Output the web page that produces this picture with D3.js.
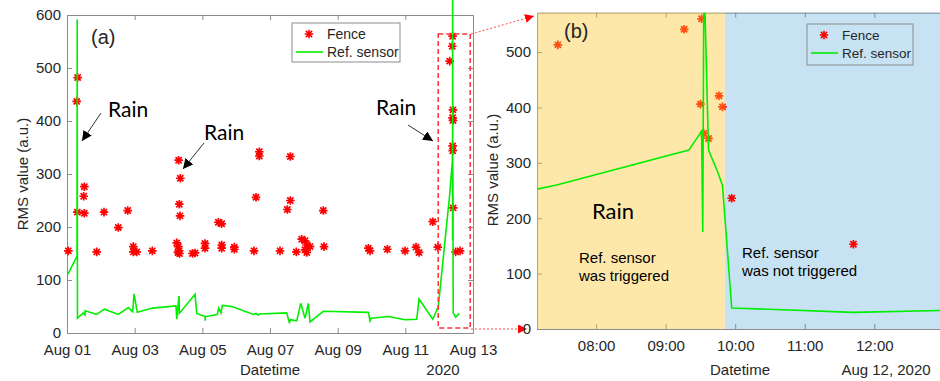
<!DOCTYPE html>
<html>
<head>
<meta charset="utf-8">
<script src="https://cdn.jsdelivr.net/npm/d3@7"></script>
<style>
    body { margin: 0; background: #fff; }
    text { font-family: "Liberation Sans", Arial, sans-serif; fill: #262626; }
    .axis path, .axis line { stroke: #8c8c8c; }
    .axis text { font-size: 15px; fill: #262626; }
</style>
</head>
<body>
<script>
var fenceTimes = [
    "2020-08-01 00:55", "2020-08-01 06:53", "2020-08-01 07:35", "2020-08-01 07:18", "2020-08-01 12:16",
    "2020-08-01 11:50", "2020-08-01 12:16", "2020-08-01 21:04", "2020-08-02 02:15", "2020-08-02 12:23",
    "2020-08-02 19:04", "2020-08-02 23:02", "2020-08-02 23:02", "2020-08-03 01:26", "2020-08-03 12:30",
    "2020-08-04 05:50", "2020-08-04 06:58", "2020-08-04 07:12", "2020-08-04 07:40", "2020-08-04 08:10",
    "2020-08-04 08:23", "2020-08-04 07:30", "2020-08-04 07:50", "2020-08-04 06:40", "2020-08-04 18:49",
    "2020-08-04 17:00", "2020-08-05 01:54", "2020-08-05 01:54", "2020-08-05 11:20", "2020-08-05 13:45",
    "2020-08-05 13:45", "2020-08-05 13:45", "2020-08-05 22:41", "2020-08-05 22:41", "2020-08-06 12:40",
    "2020-08-06 14:05", "2020-08-06 16:25", "2020-08-06 16:25", "2020-08-07 07:06", "2020-08-07 12:17",
    "2020-08-07 14:25", "2020-08-07 14:25", "2020-08-07 18:40", "2020-08-07 22:30", "2020-08-08 00:50",
    "2020-08-08 00:50", "2020-08-08 02:04", "2020-08-08 02:04", "2020-08-08 04:23", "2020-08-08 13:49",
    "2020-08-08 14:20", "2020-08-09 21:45", "2020-08-09 22:58", "2020-08-10 11:14", "2020-08-10 23:47",
    "2020-08-11 07:35", "2020-08-11 09:43", "2020-08-11 19:26", "2020-08-11 23:00",
    "2020-08-12 07:27", "2020-08-12 09:16", "2020-08-12 09:31", "2020-08-12 09:30", "2020-08-12 09:33",
    "2020-08-12 09:37", "2020-08-12 09:46", "2020-08-12 09:49", "2020-08-12 09:57", "2020-08-12 11:42",
    "2020-08-12 14:50"
];
var fenceValues = [
    155, 437, 482, 228, 276,
    258, 226, 153, 228, 199,
    231, 163, 153, 153, 155,
    170, 163, 326, 243, 221,
    292, 155, 150, 152, 151,
    150, 169, 160, 209, 206,
    166, 160, 162, 158, 155,
    256, 342, 334, 155, 233,
    250, 333, 153, 177, 174,
    157, 166, 152, 163, 231,
    163, 160, 155, 158, 155,
    162, 152, 210, 162,
    513, 541, 560, 406, 353,
    344, 421, 401, 236, 153,
    155
];

var sensorTimes = [
    "2020-08-01 00:43", "2020-08-01 07:06", "2020-08-01 07:15", "2020-08-01 07:25", "2020-08-01 11:34",
    "2020-08-01 12:46", "2020-08-01 12:50", "2020-08-01 21:04", "2020-08-02 02:28", "2020-08-02 12:23",
    "2020-08-02 19:29", "2020-08-02 22:36", "2020-08-02 23:32", "2020-08-03 01:52", "2020-08-03 12:48",
    "2020-08-04 05:20", "2020-08-04 05:50", "2020-08-04 07:28", "2020-08-04 07:41", "2020-08-04 18:49",
    "2020-08-04 20:01", "2020-08-05 01:54", "2020-08-05 02:00", "2020-08-05 02:10", "2020-08-05 10:38",
    "2020-08-05 11:37", "2020-08-05 13:15", "2020-08-05 14:11", "2020-08-05 21:03", "2020-08-06 12:10",
    "2020-08-06 14:05", "2020-08-06 15:30", "2020-08-06 16:55", "2020-08-07 11:51", "2020-08-07 13:42",
    "2020-08-07 14:42", "2020-08-07 18:58", "2020-08-07 21:48", "2020-08-08 00:50", "2020-08-08 03:11",
    "2020-08-08 04:23", "2020-08-08 13:49", "2020-08-09 21:45", "2020-08-09 22:58", "2020-08-09 23:40",
    "2020-08-10 11:57", "2020-08-10 23:47", "2020-08-11 08:05", "2020-08-11 09:43", "2020-08-11 19:26",
    "2020-08-11 23:24", "2020-08-12 07:26", "2020-08-12 09:20", "2020-08-12 09:31", "2020-08-12 09:32",
    "2020-08-12 09:33", "2020-08-12 09:37", "2020-08-12 09:45", "2020-08-12 09:48", "2020-08-12 09:49",
    "2020-08-12 09:57", "2020-08-12 11:42", "2020-08-12 14:20"
];
var sensorValues = [
    111, 145, 592, 28, 38,
    34, 42, 35, 45, 35,
    48, 40, 74, 39, 47,
    51, 26, 70, 37, 73,
    37, 31, 23, 31, 35,
    47, 38, 52, 50, 35,
    37, 34, 36, 38, 20,
    25, 23, 56, 28, 56,
    21, 41, 39, 23, 28,
    31, 25, 26, 64, 26,
    50, 260, 323, 357, 175,
    650, 323, 283, 265, 260,
    38, 30, 37
];

var leftTicks = ["2020-08-01 00:00", "2020-08-03 00:00", "2020-08-05 00:00", "2020-08-07 00:00",
    "2020-08-09 00:00", "2020-08-11 00:00", "2020-08-13 00:00"];
var rightTicks = ["2020-08-12 08:00", "2020-08-12 09:00", "2020-08-12 10:00", "2020-08-12 11:00", "2020-08-12 12:00"];
var yTicksLeft = [0, 100, 200, 300, 400, 500, 600];
var yTicksRight = [0, 100, 200, 300, 400, 500];
var rainEnd = "2020-08-12 09:51";

var parse = d3.timeParse("%Y-%m-%d %H:%M");
var fencePts = fenceTimes.map(function (t, i) { return {date: parse(t), value: fenceValues[i]}; });
var sensorPts = sensorTimes.map(function (t, i) { return {date: parse(t), value: sensorValues[i]}; });

var svg = d3.select("body").append("svg")
    .attr("width", 940)
    .attr("height", 381);

var defs = svg.append("defs");
defs.append("marker")
    .attr("id", "arrowRed")
    .attr("viewBox", "0 0 10 10")
    .attr("refX", 10).attr("refY", 5)
    .attr("markerWidth", 9).attr("markerHeight", 9)
    .attr("markerUnits", "userSpaceOnUse")
    .attr("orient", "auto")
    .append("path").attr("d", "M0,0L10,5L0,10Z").attr("fill", "#ff0000");
defs.append("marker")
    .attr("id", "arrowBlack")
    .attr("viewBox", "0 0 10 10")
    .attr("refX", 10).attr("refY", 5)
    .attr("markerWidth", 10).attr("markerHeight", 10)
    .attr("markerUnits", "userSpaceOnUse")
    .attr("orient", "auto")
    .append("path").attr("d", "M0,0L10,5L0,10Z").attr("fill", "#000");

// 8-ray asterisk like matlab '*'
var starPath = "M-4.3,0L4.3,0M0,-4.3L0,4.3M-3.1,-3.1L3.1,3.1M-3.1,3.1L3.1,-3.1";

function drawStars(g, pts, xs, ys) {
    g.selectAll(".star")
        .data(pts)
        .enter()
        .append("path")
        .classed("star", true)
        .attr("d", starPath)
        .attr("transform", function (d) {
            return "translate(" + xs(d.date) + "," + ys(d.value) + ")";
        })
        .attr("stroke", "#ff0000")
        .attr("stroke-width", 1.7)
        .attr("fill", "none");
}

function drawLegend(g, x0, y0, w, h, fs, bg) {
    g.append("rect")
        .attr("x", x0).attr("y", y0)
        .attr("width", w).attr("height", h)
        .attr("fill", bg)
        .attr("stroke", "#8c8c8c");
    g.append("path")
        .attr("d", starPath)
        .attr("transform", "translate(" + (x0 + 17) + "," + (y0 + 11) + ")")
        .attr("stroke", "#ff0000").attr("stroke-width", 1.6).attr("fill", "none");
    g.append("text").attr("x", x0 + 35).attr("y", y0 + 16).style("font-size", fs + "px").text("Fence");
    g.append("line")
        .attr("x1", x0 + 4).attr("x2", x0 + 31)
        .attr("y1", y0 + 29).attr("y2", y0 + 29)
        .attr("stroke", "#00ee00").attr("stroke-width", 1.6);
    g.append("text").attr("x", x0 + 35).attr("y", y0 + 34).style("font-size", fs + "px").text("Ref. sensor");
}

function drawFrame(g, xs, ys, xTicks, yTicks, fmt) {
    var r = xs.range(), yr = ys.range();
    g.append("g").classed("x axis", true)
        .attr("transform", "translate(0," + yr[0] + ")")
        .call(d3.axisBottom(xs).tickValues(xTicks).tickFormat(fmt).tickSizeInner(-5).tickSizeOuter(0).tickPadding(11));
    g.append("g").classed("x axis", true)
        .attr("transform", "translate(0," + yr[1] + ")")
        .call(d3.axisTop(xs).tickValues(xTicks).tickFormat("").tickSizeInner(-5).tickSizeOuter(0));
    g.append("g").classed("y axis", true)
        .attr("transform", "translate(" + r[0] + ",0)")
        .call(d3.axisLeft(ys).tickValues(yTicks).tickSizeInner(-5).tickSizeOuter(0).tickPadding(6));
    g.append("g").classed("y axis", true)
        .attr("transform", "translate(" + r[1] + ",0)")
        .call(d3.axisRight(ys).tickValues(yTicks).tickFormat("").tickSizeInner(-5).tickSizeOuter(0));
}

// ---------- panel (a)
var x = d3.scaleTime()
    .domain([parse("2020-08-01 00:00"), parse("2020-08-13 00:00")])
    .range([67, 473]);
var y = d3.scaleLinear().domain([0, 600]).range([333, 15]);

var panelA = svg.append("g");
drawFrame(panelA, x, y, leftTicks.map(parse), yTicksLeft, d3.timeFormat("Aug %d"));
drawStars(panelA, fencePts, x, y);

var line = d3.line()
    .x(function (d) { return x(d.date); })
    .y(function (d) { return y(d.value); });
panelA.append("path")
    .datum(sensorPts)
    .attr("d", line)
    .attr("fill", "none")
    .attr("stroke", "#00ee00")
    .attr("stroke-width", 1.6);

drawLegend(panelA, 292, 23, 108, 39, 14, "#fff");

panelA.append("text").attr("x", 91).attr("y", 44).style("font-size", "20px").text("(a)");
panelA.append("text")
    .attr("transform", "translate(28,174) rotate(-90)")
    .attr("text-anchor", "middle").style("font-size", "15px").text("RMS value (a.u.)");
panelA.append("text").attr("x", 270).attr("y", 375).attr("text-anchor", "middle").style("font-size", "15px").text("Datetime");
panelA.append("text").attr("x", 443).attr("y", 375).attr("text-anchor", "middle").style("font-size", "15px").text("2020");

var rains = [[108, 117, 101, 113, 82, 141], [204, 140, 204, 143, 183, 169], [376, 115, 408, 125, 433, 141]];
rains.forEach(function (r) {
    panelA.append("text").attr("x", r[0]).attr("y", r[1])
        .style("font-family", "Lato, 'Open Sans', sans-serif").style("font-size", "21px").style("fill", "#000")
        .text("Rain");
    panelA.append("line")
        .attr("x1", r[2]).attr("y1", r[3]).attr("x2", r[4]).attr("y2", r[5])
        .attr("stroke", "#333").attr("stroke-width", 1)
        .attr("marker-end", "url(#arrowBlack)");
});

// zoom box
var zStart = parse("2020-08-12 07:09");
panelA.append("rect")
    .attr("x", x(zStart) - 11).attr("y", 34)
    .attr("width", 32).attr("height", 294)
    .attr("fill", "none").attr("stroke", "#ff3333")
    .attr("stroke-width", 1.5).attr("stroke-dasharray", "5,3");
svg.append("line")
    .attr("x1", 471).attr("y1", 34).attr("x2", 534).attr("y2", 16)
    .attr("stroke", "#ff4d4d").attr("stroke-dasharray", "2,2")
    .attr("marker-end", "url(#arrowRed)");
svg.append("line")
    .attr("x1", 471).attr("y1", 329).attr("x2", 527).attr("y2", 329)
    .attr("stroke", "#ff4d4d").attr("stroke-dasharray", "2,2")
    .attr("marker-end", "url(#arrowRed)");

// ---------- panel (b)
var x2 = d3.scaleTime()
    .domain([parse("2020-08-12 07:09"), parse("2020-08-12 13:01")])
    .range([537, 945]);
var y2 = d3.scaleLinear().domain([0, 571]).range([329, 12.7]);

var panelB = svg.append("g");
defs.append("clipPath").attr("id", "clip2")
    .append("rect").attr("x", 537).attr("y", 12.7).attr("width", 408).attr("height", 316.3);

drawFrame(panelB, x2, y2, rightTicks.map(parse), yTicksRight, d3.timeFormat("%H:%M"));

// no-rain patch sits under the marks, rain patch tints over them
panelB.append("rect")
    .attr("x", x2(parse(rainEnd))).attr("y", y2.range()[1])
    .attr("width", x2.range()[1] - x2(parse(rainEnd)))
    .attr("height", y2.range()[0] - y2.range()[1])
    .attr("fill", "#41a0d8").attr("fill-opacity", 0.3);

var inside = fencePts.filter(function (d) { return d.date >= x2.domain()[0] && d.date <= x2.domain()[1]; });
drawStars(panelB.append("g").attr("clip-path", "url(#clip2)"), inside, x2, y2);

drawLegend(panelB, 807, 24, 106, 41, 13.5, "none");

panelB.append("rect")
    .attr("x", x2.range()[0]).attr("y", y2.range()[1])
    .attr("width", x2(parse(rainEnd)) - x2.range()[0])
    .attr("height", y2.range()[0] - y2.range()[1])
    .attr("fill", "#fac52b").attr("fill-opacity", 0.4);

var line2 = d3.line()
    .x(function (d) { return x2(d.date); })
    .y(function (d) { return y2(d.value); });
panelB.append("path")
    .datum(sensorPts)
    .attr("clip-path", "url(#clip2)")
    .attr("d", line2)
    .attr("fill", "none")
    .attr("stroke", "#00ee00")
    .attr("stroke-width", 1.6);

panelB.append("text").attr("x", 564).attr("y", 38).style("font-size", "20px").text("(b)");
panelB.append("text").attr("x", 592).attr("y", 219)
    .style("font-family", "Lato, 'Open Sans', sans-serif").style("font-size", "22px").style("fill", "#000")
    .text("Rain");
panelB.append("text").attr("x", 579).attr("y", 263).style("font-size", "15px").style("fill", "#000").text("Ref. sensor");
panelB.append("text").attr("x", 579).attr("y", 281).style("font-size", "15px").style("fill", "#000").text("was triggered");
panelB.append("text").attr("x", 742).attr("y", 258).style("font-size", "15px").style("fill", "#000").text("Ref. sensor");
panelB.append("text").attr("x", 742).attr("y", 276).style("font-size", "15px").style("fill", "#000").text("was not triggered");

panelB.append("text")
    .attr("transform", "translate(498,170) rotate(-90)")
    .attr("text-anchor", "middle").style("font-size", "15px").text("RMS value (a.u.)");
panelB.append("text").attr("x", 740).attr("y", 375).attr("text-anchor", "middle").style("font-size", "15px").text("Datetime");
panelB.append("text").attr("x", 886).attr("y", 375).attr("text-anchor", "middle").style("font-size", "15px").text("Aug 12, 2020");
</script>
</body>
</html>
